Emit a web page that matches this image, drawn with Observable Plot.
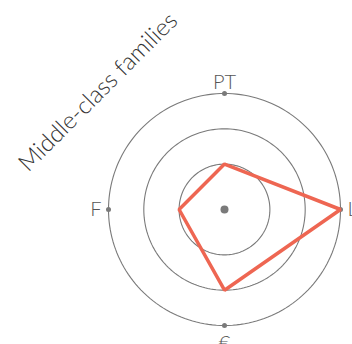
<!DOCTYPE html>
<html><head><meta charset="utf-8">
<script src="https://cdn.jsdelivr.net/npm/d3@7"></script>
<script src="https://cdn.jsdelivr.net/npm/@observablehq/plot@0.6"></script>
<style>html,body{margin:0;padding:0;background:#fff;overflow:hidden} svg{display:block}</style>
</head><body><div id="chart"></div>
<script>
// Data
const axes = ["PT", "L", "€", "F"];
const values = [1, 3, 2, 1];
const rings = [1, 2, 3];
const title = "Middle-class families";

const maxValue = 3;
const rScale = d3.scaleLinear([0, maxValue], [0.087, 1]);
const angleOf = i => (i * 2 * Math.PI) / axes.length;
const polar = (v, a) => ({x: rScale(v) * Math.sin(a), y: rScale(v) * Math.cos(a)});

const ringPts = rings.flatMap(r => d3.range(0, 361, 2).map(deg => ({ring: r, ...polar(r, deg * Math.PI / 180)})));
const axisPts = axes.map((k, i) => ({key: k, ...polar(maxValue, angleOf(i))}));
const shape = axes.map((k, i) => ({key: k, ...polar(values[i], angleOf(i))}));

const anchorFor = i => {
  const a = angleOf(i);
  const s = Math.round(Math.sin(a)), c = Math.round(Math.cos(a));
  return {
    textAnchor: s > 0 ? "start" : s < 0 ? "end" : "middle",
    lineAnchor: c > 0 ? "bottom" : c < 0 ? "top" : "middle",
    dx: s * 7, dy: c > 0 ? -5 : c < 0 ? 10 : 0
  };
};

const grey = "#7a7a7a";
const chart = Plot.plot({
  width: 352, height: 344,
  marginLeft: 108, marginRight: 12, marginTop: 93, marginBottom: 19,
  x: {domain: [-1, 1], axis: null},
  y: {domain: [-1, 1], axis: null},
  style: {fontFamily: "Lato, sans-serif", fontWeight: 300, background: "#fff"},
  marks: [
    Plot.line(ringPts, {x: "x", y: "y", z: "ring", stroke: grey, strokeWidth: 1.1}),
    Plot.dot(axisPts, {x: "x", y: "y", r: 2.5, fill: grey, stroke: null}),
    Plot.dot([{x: 0, y: 0}], {x: "x", y: "y", r: 4, fill: grey, stroke: null}),
    Plot.line(shape, {x: "x", y: "y", curve: "linear-closed", stroke: "#ee6652", strokeWidth: 3.5, strokeLinejoin: "miter"}),
    ...axisPts.map((d, i) => Plot.text([d], {x: "x", y: "y", text: "key", fontSize: 20, fill: "#555", ...anchorFor(i)})),
    Plot.text([title], {frameAnchor: "top-left", dx: -17, dy: -8, rotate: -45, text: d => d, fontSize: 24, fill: "#333", textAnchor: "middle"})
  ]
});
document.getElementById("chart").append(chart);
</script>
</body></html>
